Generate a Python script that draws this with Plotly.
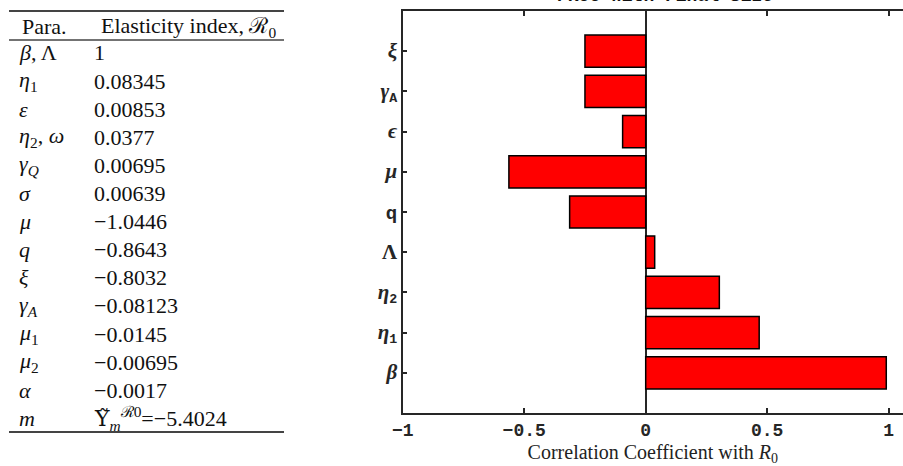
import plotly.graph_objects as go

W, H = 903, 466

# ---------------- data ----------------
table_header = ["Para.", "Elasticity index, ℛ<sub>0</sub>"]
table_params = [
    "<i>β</i>, Λ", "<i>η</i><sub>1</sub>", "<i>ε</i>", "<i>η</i><sub>2</sub>, <i>ω</i>",
    "<i>γ</i><sub><i>Q</i></sub>", "<i>σ</i>", "<i>μ</i>", "<i>q</i>", "<i>ξ</i>",
    "<i>γ</i><sub><i>A</i></sub>", "<i>μ</i><sub>1</sub>", "<i>μ</i><sub>2</sub>",
    "<i>α</i>", "<i>m</i>",
]
table_values = [
    "1", "0.08345", "0.00853", "0.0377", "0.00695", "0.00639", "−1.0446",
    "−0.8643", "−0.8032", "−0.08123", "−0.0145", "−0.00695", "−0.0017",
    "<span style='font-family:DejaVu Serif'>\u03a5\u0303</span><sub><i>m</i></sub><sup>ℛ0</sup>=−5.4024",
]

bar_categories = ["beta", "eta1", "eta2", "Lambda", "q", "mu", "epsilon", "gammaA", "xi"]
bar_ticktext = [
    "<span style='font-family:Liberation Serif;font-size:21px'><b><i>β</i></b></span>",
    "<span style='font-family:Liberation Serif;font-size:21px'><b><i>η</i></b></span><sub>1</sub>",
    "<span style='font-family:Liberation Serif;font-size:21px'><b><i>η</i></b></span><sub>2</sub>",
    "<span style='font-family:Liberation Serif;font-size:21px'><b>Λ</b></span>",
    "q",
    "<span style='font-family:Liberation Serif;font-size:21px'><b><i>μ</i></b></span>",
    "<span style='font-family:Liberation Serif;font-size:21px'><b><i>ϵ</i></b></span>",
    "<span style='font-family:Liberation Serif;font-size:21px'><b><i>γ</i></b></span><sub>A</sub>",
    "<span style='font-family:Liberation Serif;font-size:21px'><b><i>ξ</i></b></span>",
]
prcc_values = [0.990, 0.467, 0.303, 0.037, -0.313, -0.563, -0.095, -0.250, -0.250]

x_tickvals = [-1, -0.5, 0, 0.5, 1]
x_ticktext = ["−1", "−0.5", "0", "0.5", "1"]

chart_title = "PRCC with Final Size"
x_title = "Correlation Coefficient with <i>R</i><sub>0</sub>"

# ---------------- layout helpers ----------------
def px_x(p):
    return p / W

def px_y(p):
    return 1 - p / H

AX = "#262626"
plot_left, plot_top, plot_bottom = 402.7, 11, 413
unit = 243.0

fig = go.Figure()
fig.add_trace(go.Bar(
    x=prcc_values, y=bar_categories, orientation="h",
    width=0.8,
    marker=dict(color="#ff0000", line=dict(color="#000000", width=1.5)),
    hoverinfo="x+y",
))

fig.update_layout(
    width=W, height=H,
    margin=dict(l=0, r=0, t=0, b=0),
    paper_bgcolor="white", plot_bgcolor="white",
    showlegend=False,
    template="none",
    xaxis=dict(
        domain=[px_x(plot_left), 1],
        range=[-1, -1 + (W - plot_left) / unit],
        tickvals=x_tickvals, ticktext=x_ticktext,
        tickfont=dict(family="Liberation Mono", size=18, color=AX, weight="bold"),
        ticks="inside", ticklen=5, tickwidth=1.5, tickcolor=AX,
        showline=True, linecolor=AX, linewidth=1.5, mirror="ticks",
        showgrid=False, zeroline=True, zerolinecolor=AX, zerolinewidth=1.5,
        automargin=False,
        title=dict(text=x_title, font=dict(family="Liberation Serif", size=20, color="#222"), standoff=10),
    ),
    yaxis=dict(
        domain=[px_y(plot_bottom), px_y(plot_top)],
        type="category",
        categoryorder="array", categoryarray=bar_categories,
        tickvals=bar_categories, ticktext=bar_ticktext,
        range=[-1, len(bar_categories)],
        tickfont=dict(family="Liberation Mono", size=19, color=AX, weight="bold"),
        ticks="inside", ticklen=5, tickwidth=1.5, tickcolor=AX,
        showline=True, linecolor=AX, linewidth=1.5, mirror=False,
        showgrid=False, zeroline=False,
        automargin=False,
    ),
)

# title (cut off at the top edge, as in the source image)
fig.add_annotation(
    text=f"<b>{chart_title}</b>", xref="paper", yref="paper",
    x=px_x(665), y=px_y(8), xanchor="center", yanchor="bottom",
    showarrow=False, font=dict(family="Liberation Mono", size=18, color="#111"),
)

# ---------------- table ----------------
TF = dict(family="Liberation Serif", size=22, color="#111")
col1_x, col2_x = 17, 92
header_y = 27
row0_y, row_dy = 53, 28.1

fig.add_annotation(text=table_header[0], xref="paper", yref="paper", x=px_x(20), y=px_y(header_y),
                   xanchor="left", yanchor="middle", showarrow=False, font=TF)
fig.add_annotation(text=table_header[1], xref="paper", yref="paper", x=px_x(99), y=px_y(header_y),
                   xanchor="left", yanchor="middle", showarrow=False, font=TF)
for i, (p, v) in enumerate(zip(table_params, table_values)):
    yy = px_y(row0_y + i * row_dy)
    fig.add_annotation(text=p, xref="paper", yref="paper", x=px_x(col1_x), y=yy,
                       xanchor="left", yanchor="middle", showarrow=False, font=TF)
    fig.add_annotation(text=v, xref="paper", yref="paper", x=px_x(col2_x), y=yy,
                       xanchor="left", yanchor="middle", showarrow=False, font=TF)

for yr, w in [(11, 2), (40, 1.3), (432, 2)]:
    fig.add_shape(type="line", xref="paper", yref="paper",
                  x0=px_x(9), x1=px_x(284), y0=px_y(yr), y1=px_y(yr),
                  line=dict(color="#444", width=w))

fig.write_html("out.html", config={"displayModeBar": False},
               post_script="document.body.style.margin='0';")
